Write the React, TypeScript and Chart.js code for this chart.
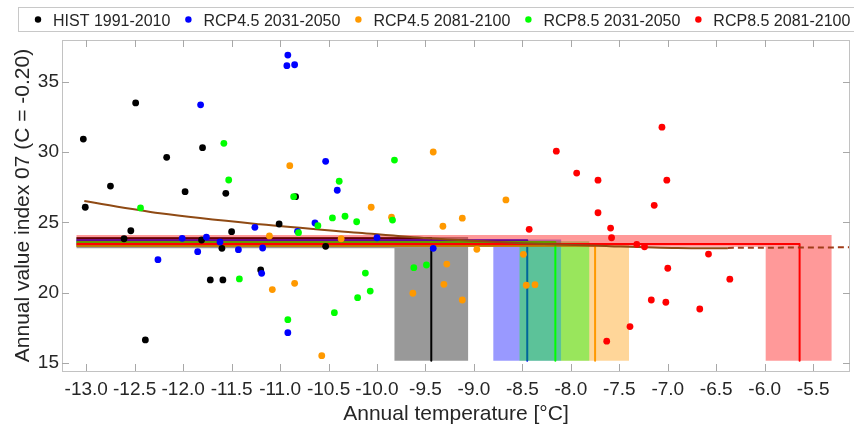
import React, { useEffect, useRef } from "react";
import { Chart, registerables } from "chart.js";

Chart.register(...registerables);

const FONT = '"Liberation Sans", Arial, Helvetica, sans-serif';

const seriesLabels = [
  "HIST 1991-2010",
  "RCP4.5 2031-2050",
  "RCP4.5 2081-2100",
  "RCP8.5 2031-2050",
  "RCP8.5 2081-2100",
];
const seriesColors = ["#000000", "#0000ff", "#ff9900", "#00ff00", "#ff0000"];
const bandColors = [
  "rgba(0,0,0,0.4)",
  "rgba(0,0,255,0.4)",
  "rgba(255,153,0,0.4)",
  "rgba(0,255,0,0.4)",
  "rgba(255,0,0,0.4)",
];

const xTitle = "Annual temperature [°C]";
const yTitle = "Annual value index 07 (C = -0.20)";

const xMin = -13.25;
const xMax = -5.12;
const yMin = 14.42;
const yMax = 37.97;
const xTicks = [-13, -12.5, -12, -11.5, -11, -10.5, -10, -9.5, -9, -8.5, -8, -7.5, -7, -6.5, -6, -5.5];
const yTicks = [15, 20, 25, 30, 35];

// scatter points
const histX = [-13.03, -13.01, -12.75, -12.49, -12.61, -12.54, -12.39, -12.17, -11.98, -11.8, -11.81, -11.72, -11.59, -11.6, -11.56, -11.5, -11.2, -11.01, -10.84, -10.53];
const histY = [30.92, 26.07, 27.58, 33.49, 23.83, 24.4, 16.63, 29.62, 27.18, 30.31, 23.74, 20.9, 20.9, 23.15, 27.06, 24.33, 21.61, 24.88, 26.82, 23.29];

const rcp45aX = [-12.26, -12.01, -11.85, -11.82, -11.76, -11.62, -11.43, -11.26, -11.18, -11.19, -10.92, -10.93, -10.85, -10.92, -10.82, -10.64, -10.53, -10.41, -10.0, -9.42];
const rcp45aY = [22.34, 23.86, 22.91, 33.36, 23.95, 23.6, 23.05, 24.64, 23.17, 21.37, 36.9, 36.14, 36.21, 17.15, 24.36, 24.95, 29.34, 27.28, 23.9, 23.15];

const rcp45bX = [-11.11, -11.08, -10.9, -10.85, -10.57, -10.37, -9.85, -8.67, -9.32, -9.12, -8.97, -9.28, -9.63, -9.31, -9.12, -8.49, -8.46, -8.37, -9.42, -10.06];
const rcp45bY = [24.03, 20.21, 29.03, 20.66, 15.51, 23.83, 25.36, 26.59, 24.72, 25.29, 23.08, 22.03, 19.95, 20.59, 19.47, 22.72, 20.52, 20.56, 30.0, 26.07];

const rcp85aX = [-12.44, -11.58, -11.53, -11.42, -10.92, -10.86, -10.81, -10.61, -10.46, -10.44, -10.39, -10.33, -10.21, -10.2, -9.84, -9.62, -9.49, -10.12, -10.07, -9.82];
const rcp85aY = [26.02, 30.62, 28.01, 20.97, 18.07, 26.82, 24.26, 24.76, 25.31, 18.57, 27.92, 25.43, 25.04, 19.64, 25.16, 21.77, 21.96, 21.39, 20.11, 29.43];

const rcp85bX = [-8.43, -7.72, -7.59, -7.58, -7.32, -7.24, -7.14, -7.0, -7.17, -7.02, -7.39, -7.63, -6.58, -6.36, -6.67, -8.15, -7.94, -7.72, -7.06, -7.01];
const rcp85bY = [24.5, 25.68, 24.59, 23.9, 23.43, 23.26, 26.21, 21.73, 19.47, 19.31, 17.58, 16.54, 22.74, 20.95, 18.83, 30.06, 28.5, 28.0, 31.77, 28.0];

// per-scenario mean and spread
const meanX = [-9.44, -8.45, -7.75, -8.16, -5.64];
const meanY = [23.86, 23.72, 23.33, 23.6, 23.46];
const bandXLo = [-9.82, -8.8, -8.1, -8.53, -5.99];
const bandXHi = [-9.06, -8.1, -7.4, -7.81, -5.31];
const bandYLo = [23.15, 23.26, 23.26, 23.26, 23.26];
const bandYHi = [23.95, 23.78, 23.42, 23.66, 24.1];
const bandLeftX = -13.1;
const bandBottomY = 15.15;

// fitted curve
const trendX = [-13.02, -12.24, -11.21, -10.19, -9.47, -8.44, -7.6, -6.9, -6.38];
const trendY = [26.51, 25.64, 24.86, 24.26, 23.86, 23.5, 23.3, 23.17, 23.15];
const trendDashX = [-6.38, -5.12];
const trendDashY = [23.18, 23.22];

const scatterX = [histX, rcp45aX, rcp45bX, rcp85aX, rcp85bX];
const scatterY = [histY, rcp45aY, rcp45bY, rcp85aY, rcp85bY];

const axesBoxPlugin = {
  id: "axesBox",
  afterDatasetsDraw(chart: any) {
    const { ctx, chartArea } = chart;
    const { left, right, top, bottom } = chartArea;
    const xs = chart.scales.x;
    const ys = chart.scales.y;
    ctx.save();
    ctx.strokeStyle = "#c2c2c2";
    ctx.lineWidth = 1;
    ctx.strokeRect(Math.round(left) + 0.5, Math.round(top) + 0.5, Math.round(right - left) - 1, Math.round(bottom - top));
    ctx.strokeStyle = "#a8a8a8";
    ctx.beginPath();
    const tl = 7;
    xTicks.forEach((v) => {
      const px = Math.round(xs.getPixelForValue(v)) + 0.5;
      ctx.moveTo(px, bottom);
      ctx.lineTo(px, bottom - tl);
      ctx.moveTo(px, top);
      ctx.lineTo(px, top + tl);
    });
    yTicks.forEach((v) => {
      const py = Math.round(ys.getPixelForValue(v)) + 0.5;
      ctx.moveTo(left, py);
      ctx.lineTo(left + tl, py);
      ctx.moveTo(right, py);
      ctx.lineTo(right - tl, py);
    });
    ctx.stroke();
    ctx.restore();
  },
};

const legendPlugin = {
  id: "boxLegend",
  afterDraw(chart: any) {
    const ctx = chart.ctx;
    ctx.save();
    ctx.fillStyle = "#ffffff";
    ctx.fillRect(18.5, 7.5, 900, 24);
    ctx.strokeStyle = "#c8c8c8";
    ctx.lineWidth = 1;
    ctx.strokeRect(18.5, 7.5, 900, 24);
    ctx.font = `16px ${FONT}`;
    ctx.textBaseline = "alphabetic";
    ctx.textAlign = "left";
    let x = 38;
    seriesLabels.forEach((lab, i) => {
      ctx.fillStyle = seriesColors[i];
      ctx.beginPath();
      ctx.arc(x, 19.5, 3.2, 0, Math.PI * 2);
      ctx.fill();
      ctx.fillStyle = "#262626";
      ctx.fillText(lab, x + 15, 25.5);
      x += 15 + ctx.measureText(lab).width + 18;
    });
    ctx.restore();
  },
};

export default function App() {
  const ref = useRef<HTMLCanvasElement>(null);

  useEffect(() => {
    const canvas = ref.current;
    if (!canvas) return;
    const datasets: any[] = [];

    for (let i = 0; i < 5; i++) {
      datasets.push({
        label: seriesLabels[i] + " band",
        data: [
          { x: bandLeftX, y: bandYHi[i] },
          { x: bandXHi[i], y: bandYHi[i] },
          { x: bandXHi[i], y: bandBottomY },
          { x: bandXLo[i], y: bandBottomY },
          { x: bandXLo[i], y: bandYLo[i] },
          { x: bandLeftX, y: bandYLo[i] },
          { x: bandLeftX, y: bandYHi[i] },
        ],
        showLine: true,
        fill: "shape",
        backgroundColor: bandColors[i],
        borderColor: "rgba(0,0,0,0)",
        borderWidth: 0,
        pointRadius: 0,
        tension: 0,
      });
      datasets.push({
        label: seriesLabels[i] + " mean",
        data: [
          { x: bandLeftX, y: meanY[i] },
          { x: meanX[i], y: meanY[i] },
          { x: meanX[i], y: bandBottomY },
        ],
        showLine: true,
        fill: false,
        borderColor: seriesColors[i],
        borderWidth: 2,
        borderJoinStyle: "round",
        pointRadius: 0,
        tension: 0,
      });
    }

    datasets.push({
      label: "fit",
      data: trendX.map((x, k) => ({ x, y: trendY[k] })),
      showLine: true,
      fill: false,
      borderColor: "#8f4a14",
      borderWidth: 2,
      pointRadius: 0,
      cubicInterpolationMode: "monotone",
    });
    datasets.push({
      label: "fit extrapolated",
      data: trendDashX.map((x, k) => ({ x, y: trendDashY[k] })),
      showLine: true,
      fill: false,
      borderColor: "#a03c18",
      borderWidth: 2,
      borderDash: [6, 4],
      pointRadius: 0,
      tension: 0,
    });

    for (let i = 0; i < 5; i++) {
      datasets.push({
        label: seriesLabels[i],
        data: scatterX[i].map((x, k) => ({ x, y: scatterY[i][k] })),
        showLine: false,
        fill: false,
        pointRadius: 3.4,
        pointBorderWidth: 0,
        pointBackgroundColor: seriesColors[i],
        pointBorderColor: seriesColors[i],
        backgroundColor: seriesColors[i],
        borderColor: seriesColors[i],
      });
    }

    datasets.forEach((d, idx) => {
      d.order = datasets.length - idx;
    });

    const chart = new Chart(canvas, {
      type: "line",
      data: { datasets },
      options: {
        responsive: false,
        animation: false,
        devicePixelRatio: 1,
        events: [],
        layout: { padding: { top: 40, right: 1, left: 0, bottom: 0 } },
        plugins: {
          legend: { display: false },
          tooltip: { enabled: false },
        },
        scales: {
          x: {
            type: "linear",
            min: xMin,
            max: xMax,
            afterBuildTicks: (s: any) => {
              s.ticks = xTicks.map((v) => ({ value: v }));
            },
            afterFit: (s: any) => {
              s.height = 59;
            },
            grid: { display: false, drawTicks: false },
            border: { display: false },
            ticks: {
              font: { family: FONT, size: 19 },
              color: "#262626",
              padding: 7,
              autoSkip: false,
              maxRotation: 0,
              callback: (v: any) => Number(v).toFixed(1),
            },
            title: {
              display: true,
              text: xTitle,
              font: { family: FONT, size: 21 },
              color: "#262626",
              padding: { top: 0, bottom: 3 },
            },
          },
          y: {
            type: "linear",
            min: yMin,
            max: yMax,
            afterBuildTicks: (s: any) => {
              s.ticks = yTicks.map((v) => ({ value: v }));
            },
            afterFit: (s: any) => {
              s.width = 62;
            },
            grid: { display: false, drawTicks: false },
            border: { display: false },
            ticks: {
              font: { family: FONT, size: 19 },
              color: "#262626",
              padding: 3,
              autoSkip: false,
              callback: (v: any) => String(v),
            },
            title: {
              display: true,
              text: yTitle,
              font: { family: FONT, size: 21 },
              color: "#262626",
              padding: { top: 11, bottom: 0 },
            },
          },
        },
      } as any,
      plugins: [axesBoxPlugin, legendPlugin],
    });

    return () => chart.destroy();
  }, []);

  return (
    <div style={{ position: "absolute", left: 0, top: 0, width: 854, height: 430, background: "#fff" }}>
      <canvas ref={ref} width={854} height={430} style={{ width: 854, height: 430, display: "block" }} />
    </div>
  );
}
